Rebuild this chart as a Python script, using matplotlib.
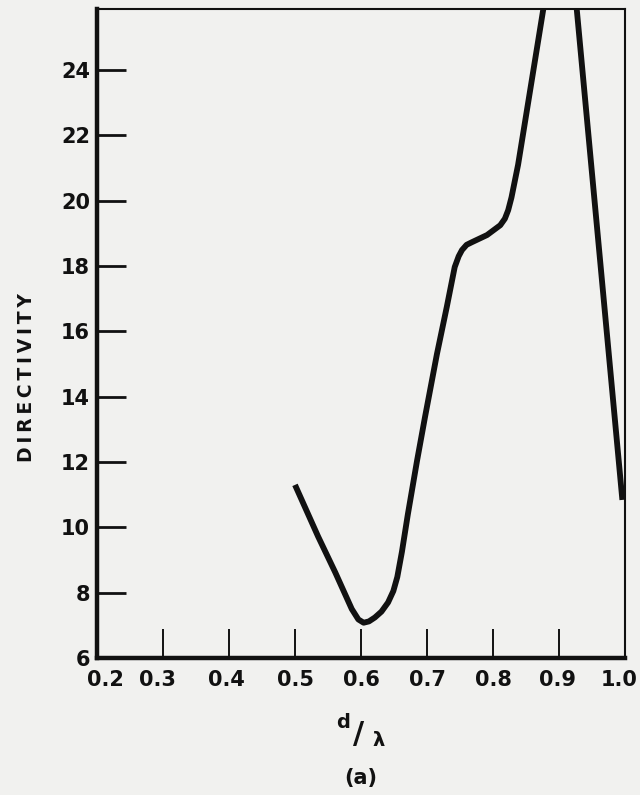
import numpy as np
import matplotlib.pyplot as plt
import matplotlib.transforms as mtransforms

# directivity vs element spacing d/lambda
spacing = [0.500, 0.535, 0.561, 0.586, 0.596, 0.604, 0.612, 0.621, 0.631, 0.641,
           0.649, 0.655, 0.662, 0.671, 0.685, 0.697, 0.715, 0.730, 0.742, 0.748,
           0.753, 0.760, 0.768, 0.791, 0.811, 0.818, 0.823, 0.828, 0.833, 0.838,
           0.876, 0.908, 0.927, 0.996]
directivity = [11.3, 9.72, 8.62, 7.50, 7.18, 7.08, 7.12, 7.24, 7.42, 7.70,
               8.05, 8.48, 9.25, 10.40, 12.05, 13.38, 15.3, 16.75, 17.97, 18.3,
               18.49, 18.65, 18.73, 18.95, 19.25, 19.45, 19.71, 20.1, 20.6, 21.1,
               25.84, 30.0, 25.84, 10.84]

x_ticks = [0.2, 0.3, 0.4, 0.5, 0.6, 0.7, 0.8, 0.9, 1.0]
x_labels = ['0.2', '0.3', '0.4', '0.5', '0.6', '0.7', '0.8', '0.9', '1.0']
y_ticks = [6, 8, 10, 12, 14, 16, 18, 20, 22, 24]
y_labels = ['6', '8', '10', '12', '14', '16', '18', '20', '22', '24']

paper = '#f1f1ef'
ink = '#111111'

fig = plt.figure(figsize=(6.4, 7.95), dpi=100, facecolor=paper)
ax = fig.add_axes([97 / 640, 1 - 658 / 795, 528 / 640, 649 / 795])
ax.set_facecolor(paper)

ax.plot(spacing, directivity, color=ink, lw=4.2, solid_capstyle='butt',
        solid_joinstyle='round')

ax.set_xlim(0.2, 1.0)
ax.set_ylim(6, 25.87)

ax.set_xticks(x_ticks)
ax.set_xticklabels(x_labels, fontsize=15, fontweight='bold', color=ink)
ax.set_yticks(y_ticks)
ax.set_yticklabels(y_labels, fontsize=15, fontweight='bold', color=ink)
ax.tick_params(axis='x', direction='in', length=21, width=1.4, pad=9, colors=ink)
ax.tick_params(axis='y', direction='in', length=21, width=2.0, pad=5, colors=ink)

# nudge some x labels sideways like the hand-lettered axis
for lab, dx in zip(ax.get_xticklabels(), [8, -6, -3, 0, 0, 0, 0, -2, -6]):
    off = mtransforms.ScaledTranslation(dx / 100, 0, fig.dpi_scale_trans)
    lab.set_transform(lab.get_transform() + off)

for side in ['left', 'bottom']:
    ax.spines[side].set_linewidth(3.2)
for side in ['top', 'right']:
    ax.spines[side].set_linewidth(1.5)
for sp in ax.spines.values():
    sp.set_color(ink)

# axis titles
fig.text(27 / 640, 1 - 378 / 795, '\u2009'.join('DIRECTIVITY'), rotation=90,
         ha='center', va='center', fontsize=13.5, fontweight='bold', color=ink)
fig.text(343 / 640, 1 - 722 / 795, 'd', ha='center', va='center',
         fontsize=14, fontweight='bold', color=ink)
fig.text(359 / 640, 1 - 734 / 795, '/', ha='center', va='center',
         fontsize=22, fontweight='bold', color=ink)
fig.text(379 / 640, 1 - 740 / 795, '\u03bb', ha='center', va='center',
         fontsize=14, fontweight='bold', color=ink)
fig.text(361 / 640, 1 - 778 / 795, '(a)', ha='center', va='center',
         fontsize=15, fontweight='bold', color=ink)

fig.savefig('out.png', dpi=100, facecolor=paper)
